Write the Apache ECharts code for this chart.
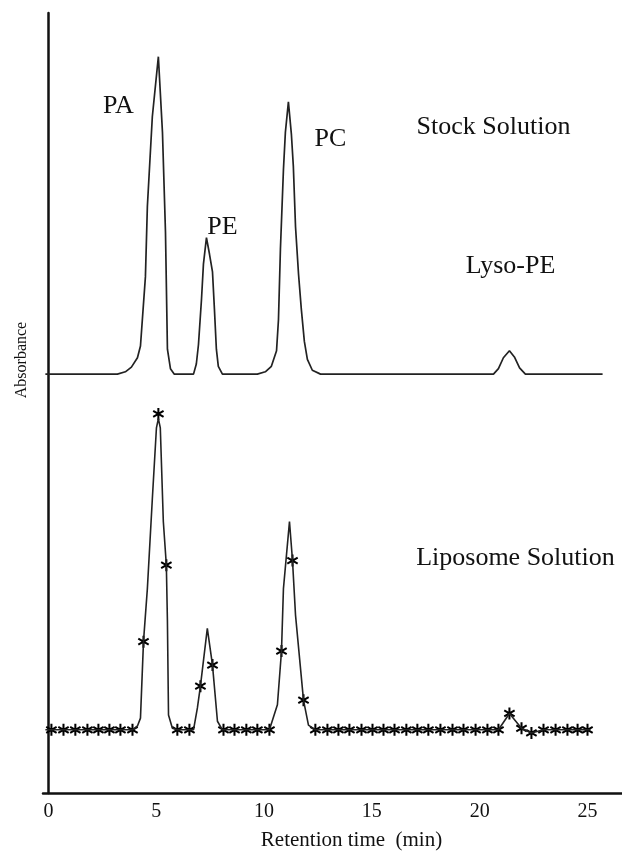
<!DOCTYPE html>
<html>
<head>
<meta charset="utf-8">
<script src="https://cdn.jsdelivr.net/npm/echarts@6/dist/echarts.min.js"></script>
<style>
  html, body { margin: 0; padding: 0; background: #fff; }
  #chart { width: 622px; height: 856px; }
</style>
</head>
<body>
<div id="chart"></div>
<script>
// ---- data (time in min, absorbance in arbitrary units) ----
let stockTime = [-0.14, 3.2, 3.57, 3.85, 4.13, 4.27, 4.5, 4.59, 4.82, 5.1, 5.29, 5.43, 5.52, 5.66, 5.84,
  6.73, 6.86, 6.96, 7.1, 7.19, 7.33, 7.47, 7.61, 7.7, 7.79, 7.88, 8.07,
  9.69, 10.06, 10.34, 10.58, 10.67, 10.76, 10.9, 10.99, 11.13, 11.27, 11.36, 11.46, 11.6, 11.73, 11.87, 12.01, 12.24, 12.62,
  20.64, 20.87, 21.1, 21.38, 21.61, 21.85, 22.12, 25.7];
let stockAbs = [53.7, 53.7, 54.0, 54.6, 55.8, 57.3, 66.2, 75.2, 86.7, 94.4, 84.7, 71.9, 56.9, 54.4, 53.7,
  53.7, 55.0, 57.5, 63.3, 67.8, 71.2, 69.1, 66.8, 62.0, 56.9, 54.7, 53.7,
  53.7, 54.0, 54.7, 56.7, 60.7, 69.7, 79.9, 84.7, 88.6, 84.4, 80.3, 72.6, 66.5, 62.0, 57.9, 55.6, 54.2, 53.7,
  53.7, 54.4, 55.8, 56.7, 55.9, 54.5, 53.7, 53.7];

let lipoTime = [-0.14, 3.9, 4.13, 4.27, 4.41, 4.59, 4.82, 5.01, 5.1, 5.19, 5.33, 5.47, 5.52, 5.57, 5.75, 5.98,
  6.73, 6.91, 7.05, 7.37, 7.61, 7.84, 8.07,
  10.25, 10.62, 10.81, 10.9, 11.18, 11.32, 11.46, 11.83, 12.06, 12.38,
  20.87, 21.38, 21.94, 22.4, 22.96, 25.14];
let lipoAbs = [8.1, 8.1, 8.6, 9.6, 19.4, 26.2, 37.7, 46.8, 48.0, 46.8, 34.8, 29.2, 22.0, 10.0, 8.3, 8.1,
  8.1, 10.9, 13.7, 21.1, 16.4, 9.2, 8.1,
  8.1, 11.3, 18.2, 26.2, 34.8, 29.8, 22.8, 11.9, 8.7, 8.1,
  8.1, 10.2, 8.3, 7.7, 8.1, 8.1];

// asterisk markers on the liposome trace
let starTime = [0.14, 0.7, 1.25, 1.81, 2.32, 2.83, 3.34, 3.9, 4.41, 5.1, 5.47, 5.98, 6.54, 7.05, 7.61,
  8.12, 8.63, 9.18, 9.69, 10.25, 10.81, 11.32, 11.83,
  12.38, 12.94, 13.45, 13.96, 14.52, 15.03, 15.54, 16.05, 16.6, 17.11, 17.62, 18.18, 18.74, 19.25, 19.81, 20.36, 20.87,
  21.38, 21.94, 22.4, 22.96, 23.52, 24.07, 24.54, 25.0];
let starAbs = [8.1, 8.1, 8.1, 8.1, 8.1, 8.1, 8.1, 8.1, 19.4, 48.6, 29.2, 8.1, 8.1, 13.7, 16.4,
  8.1, 8.1, 8.1, 8.1, 8.1, 18.2, 29.8, 11.9,
  8.1, 8.1, 8.1, 8.1, 8.1, 8.1, 8.1, 8.1, 8.1, 8.1, 8.1, 8.1, 8.1, 8.1, 8.1, 8.1, 8.1,
  10.2, 8.3, 7.7, 8.1, 8.1, 8.1, 8.1, 8.1];

let noteText = ['PA', 'PE', 'PC', 'Stock Solution', 'Lyso-PE', 'Liposome Solution'];
let noteTime = [3.25, 8.07, 13.08, 20.64, 21.43, 21.66];
let noteAbs = [88.0, 72.6, 83.8, 85.4, 67.5, 30.1];

let xTicks = [0, 5, 10, 15, 20, 25];

function pairs(xs, ys) {
  return xs.map(function (x, i) { return [x, ys[i]]; });
}

// asterisk drawn as three bars
let asterisk = 'path://M-1.7,-10L1.7,-10L1.7,10L-1.7,10Z' +
  'M-9.51,-3.53L-7.81,-6.47L9.51,3.53L7.81,6.47Z' +
  'M-7.81,6.47L-9.51,3.53L7.81,-6.47L9.51,-3.53Z';

let serif = '"Liberation Serif", "Times New Roman", serif';
let ink = '#111';

let myChart = echarts.init(document.getElementById('chart'));

let option = {
  animation: false,
  grid: { left: 43, right: 0, top: 13, bottom: 61 },
  xAxis: {
    type: 'value',
    min: -0.25,
    max: 26.6,
    name: 'Retention time  (min)',
    nameLocation: 'middle',
    nameGap: 37,
    nameTextStyle: { fontFamily: serif, fontSize: 21, color: ink, padding: [0, 0, 0, 38] },
    axisLine: { lineStyle: { color: ink, width: 2.5 } },
    axisTick: { show: false },
    splitLine: { show: false },
    axisLabel: {
      customValues: xTicks,
      margin: 9,
      fontFamily: serif,
      fontSize: 20,
      color: ink
    }
  },
  yAxis: {
    type: 'value',
    min: 0,
    max: 100,
    axisLine: { show: true, lineStyle: { color: ink, width: 2.5 } },
    axisTick: { show: false },
    axisLabel: { show: false },
    splitLine: { show: false }
  },
  graphic: [{
    type: 'text',
    x: 22,
    y: 360,
    rotation: Math.PI / 2,
    style: {
      text: 'Absorbance',
      fontFamily: serif,
      fontSize: 16,
      fill: ink,
      align: 'center',
      verticalAlign: 'middle'
    }
  }],
  series: [
    {
      name: 'Stock Solution',
      type: 'line',
      data: pairs(stockTime, stockAbs),
      symbol: 'none',
      lineStyle: { color: '#222', width: 1.7 }
    },
    {
      name: 'Liposome Solution',
      type: 'line',
      data: pairs(lipoTime, lipoAbs),
      symbol: 'none',
      lineStyle: { color: '#222', width: 1.6 }
    },
    {
      name: 'markers',
      type: 'scatter',
      data: pairs(starTime, starAbs),
      symbol: asterisk,
      symbolKeepAspect: true,
      symbolSize: 12,
      itemStyle: { color: '#000', opacity: 1 }
    },
    {
      name: 'notes',
      type: 'scatter',
      data: noteText.map(function (t, i) { return { value: [noteTime[i], noteAbs[i]], name: t }; }),
      symbolSize: 0,
      itemStyle: { opacity: 1 },
      label: {
        show: true,
        position: 'inside',
        formatter: '{b}',
        fontFamily: serif,
        fontSize: 26,
        color: ink
      }
    }
  ]
};
myChart.setOption(option);
</script>
</body>
</html>
